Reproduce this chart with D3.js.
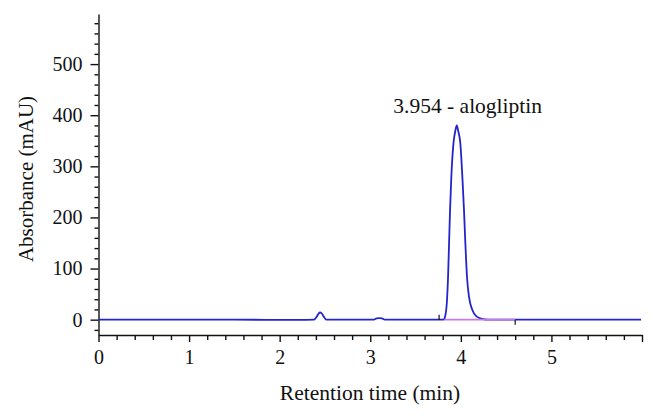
<!DOCTYPE html>
<html>
<head>
<meta charset="utf-8">
<style>
  body { margin: 0; background: #fff; }
  svg { display: block; }
  text { font-family: "Liberation Serif", "DejaVu Serif", serif; fill: #111; }
  .axis path, .axis line { stroke: #111; stroke-width: 1.4; }
  .axis text { font-size: 20px; }
  .trace { fill: none; stroke: #2424cc; stroke-width: 1.8; stroke-linejoin: round; }
  .integ { stroke: #c67ae8; stroke-width: 1.8; }
  .mark { stroke: #111; stroke-width: 1.2; }
</style>
</head>
<body>
<script src="https://d3js.org/d3.v7.min.js"></script>
<script>
// chromatogram (time in min, absorbance in mAU)
var times = [0, 1.5, 2.2, 2.38, 2.41, 2.43, 2.448, 2.47, 2.49, 2.514, 3.04, 3.07, 3.10, 3.13, 3.16,
             3.81, 3.826, 3.845, 3.859, 3.870, 3.881, 3.895, 3.918, 3.94, 3.955, 3.97, 3.995,
             4.017, 4.035, 4.05, 4.068, 4.09, 4.127, 4.175, 4.245, 4.30, 5.0, 5.99];
var absorb = [0, 0, -0.5, 0, 6, 12, 14, 11, 5, 0, 0, 2.5, 3, 2.5, 0,
              0, 6, 32, 84, 149, 214, 279, 344, 370, 380, 370, 344,
              279, 214, 149, 84, 45, 19, 6, 1, 0, 0, 0];

var peakLabel = "3.954 - alogliptin";
var peakTime = 3.954;
var integration = [3.82, 4.60];   // integrated baseline, start and end
var markTimes = [3.76, 4.60];     // integration event marks

var xMajor = [0, 1, 2, 3, 4, 5, 6];
var xLabels = ["0", "1", "2", "3", "4", "5", ""];
var yMajor = [0, 100, 200, 300, 400, 500];

var width = 656, height = 418;
var svg = d3.select("body").append("svg").attr("width", width).attr("height", height);

var x = d3.scaleLinear().domain([0, 6]).range([98.5, 642]);
var y = d3.scaleLinear().domain([-30, 598]).range([335, 14]);

// minor ticks
var xMinor = d3.range(0, 6.001, 0.2).filter(function(v){ return Math.abs(v - Math.round(v)) > 1e-6; });
var yMinor = d3.range(-20, 581, 20).filter(function(v){ return v % 100 !== 0; });

svg.append("g").attr("class", "axis").attr("transform", "translate(0,335)")
   .call(d3.axisBottom(x).tickValues(xMinor).tickSize(5).tickFormat(""))
   .call(function(g){ g.select(".domain").remove(); });
svg.append("g").attr("class", "axis").attr("transform", "translate(0,335)")
   .call(d3.axisBottom(x).tickValues(xMajor).tickSizeInner(7).tickSizeOuter(0).tickPadding(8)
        .tickFormat(function(d, i){ return xLabels[i]; }));

svg.append("g").attr("class", "axis").attr("transform", "translate(98.5,0)")
   .call(d3.axisLeft(y).tickValues(yMinor).tickSize(4).tickFormat(""))
   .call(function(g){ g.select(".domain").remove(); });
svg.append("g").attr("class", "axis").attr("transform", "translate(98.5,0)")
   .call(d3.axisLeft(y).tickValues(yMajor).tickSizeInner(8).tickSizeOuter(0).tickPadding(8));

// trace
var pts = times.map(function(t, i){ return [t, absorb[i]]; });
var line = d3.line().x(function(d){ return x(d[0]); }).y(function(d){ return y(d[1]); })
             .curve(d3.curveMonotoneX);
svg.append("path").attr("class", "trace").attr("d", line(pts));

// integration baseline, drawn over the trace
svg.append("line").attr("class", "integ")
   .attr("x1", x(integration[0])).attr("x2", x(integration[1]))
   .attr("y1", y(0)).attr("y2", y(0));

// event marks
svg.append("line").attr("class", "mark")
   .attr("x1", x(markTimes[0])).attr("x2", x(markTimes[0]))
   .attr("y1", y(0)).attr("y2", y(0) - 5);
svg.append("line").attr("class", "mark")
   .attr("x1", x(markTimes[1])).attr("x2", x(markTimes[1]))
   .attr("y1", y(0)).attr("y2", y(0) + 5);

// peak label
svg.append("text").attr("x", x(peakTime) + 11).attr("y", y(380) - 12)
   .attr("text-anchor", "middle").style("font-size", "21.5px").text(peakLabel);

// axis titles
svg.append("text").attr("x", 370).attr("y", 400).attr("text-anchor", "middle")
   .style("font-size", "21.5px").text("Retention time (min)");
svg.append("text").attr("transform", "translate(33,179) rotate(-90)").attr("text-anchor", "middle")
   .style("font-size", "21px").text("Absorbance (mAU)");
</script>
</body>
</html>
